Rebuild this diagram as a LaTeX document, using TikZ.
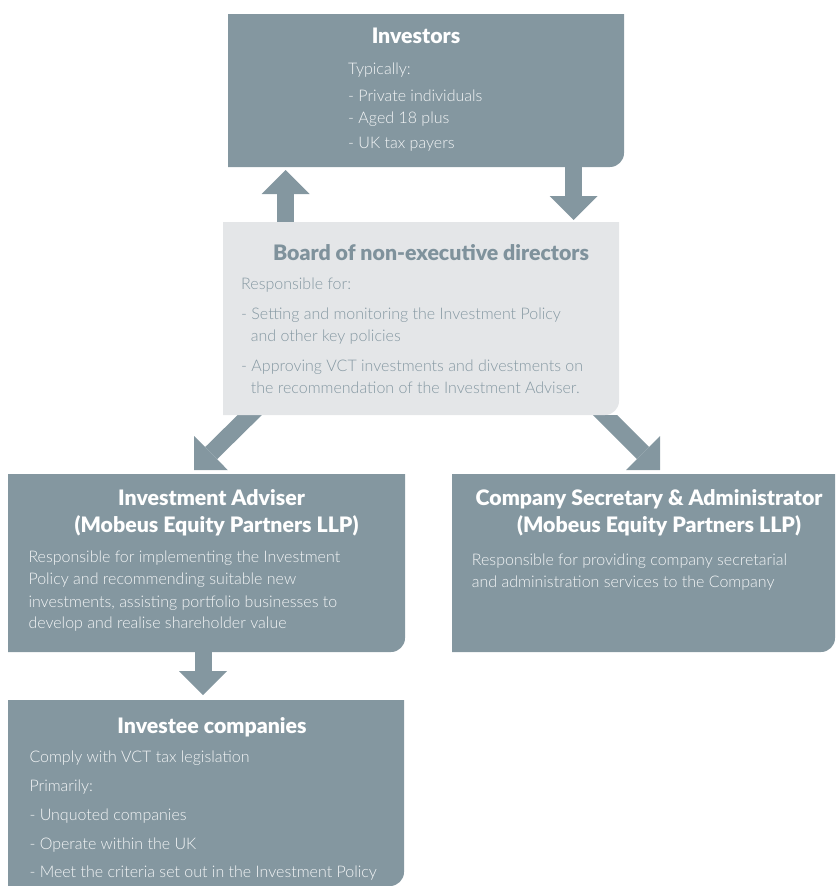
\documentclass[tikz,border=0pt]{standalone}
\usepackage{fontspec}
\setmainfont{Lato}
\newfontfamily\lightfont{Lato Light}
\newfontfamily\blackfont{Lato Black}
\usetikzlibrary{arrows.meta,backgrounds,calc}
\definecolor{boxc}{HTML}{8497A0}
\definecolor{boardc}{HTML}{E4E6E8}
\definecolor{boardtxt}{HTML}{8598A2}
\definecolor{boardttl}{HTML}{7F929C}
\definecolor{bodyw}{HTML}{F4F6F7}
\newcommand\cornerbox[2]{\fill[#2] (#1.north west) -- (#1.north east) -- ([yshift=14pt]#1.south east) .. controls ([yshift=6.3pt]#1.south east) and ([xshift=-6.3pt]#1.south east) .. ([xshift=-14pt]#1.south east) -- (#1.south west) -- cycle;}
\tikzset{
  frame/.style={anchor=north west, inner sep=0pt, outer sep=0pt},
  ttl/.style={font=\blackfont\fontsize{21.3}{24}\selectfont, text=white, anchor=base, inner sep=0pt},
  bd/.style={font=\lightfont\fontsize{16}{18}\selectfont, text=bodyw, anchor=base west, inner sep=0pt},
  bttl/.style={ttl, text=boardttl},
  bbd/.style={bd, text=boardtxt},
  bigarrow/.style={draw=boxc, line width=17pt, -{Triangle[width=48pt,length=24pt,line width=0pt]}}
}
\begin{document}
\begin{tikzpicture}[x=1pt,y=-1pt]
\useasboundingbox (0,0) rectangle (836,886);
\node[frame, minimum width=396pt, minimum height=153pt] (inv) at (228,14) {};
\node[frame, minimum width=396pt, minimum height=193pt] (board) at (223,222) {};
\node[frame, minimum width=397pt, minimum height=178pt] (adv) at (8,474) {};
\node[frame, minimum width=383pt, minimum height=178pt] (sec) at (452,474) {};
\node[frame, minimum width=396pt, minimum height=186pt] (inc) at (8,700) {};
\begin{scope}[on background layer]
\draw[bigarrow] ([xshift=62.5pt,yshift=-10pt]board.north west) -- ([xshift=57.5pt,yshift=-3pt]inv.south west);
\draw[bigarrow] ([xshift=345.5pt,yshift=10pt]inv.south west) -- ([xshift=350.5pt,yshift=2pt]board.north west);
\draw[bigarrow] ([xshift=195pt,yshift=10pt]adv.south west) -- ([xshift=195pt,yshift=5pt]inc.north west);
\begin{scope}
\clip (board.south west -| adv.west) rectangle (sec.north east);
\draw[bigarrow] ([xshift=42pt,yshift=15pt]board.south west) -- ([xshift=186pt,yshift=4pt]adv.north west);
\draw[bigarrow] ([xshift=-29pt,yshift=15pt]board.south east) -- ([xshift=208pt,yshift=4pt]sec.north west);
\end{scope}
\end{scope}
\cornerbox{inv}{boxc}
\cornerbox{board}{boardc}
\cornerbox{adv}{boxc}
\cornerbox{sec}{boxc}
\cornerbox{inc}{boxc}
% Investors
\node[ttl] (invt) at (416,43) {Investors};
\node[bd] (inv1) at (348,74) {Typically:};
\node[bd] (inv2) at (348,101) {- Private individuals};
\node[bd] (inv3) at (348,123) {- Aged 18 plus};
\node[bd] (inv4) at (348,148) {- UK tax payers};
% Board
\node[bttl] (bt) at (431,260) {Board of non-executive directors};
\node[bbd] (b1) at (241,289) {Responsible for:};
\node[bbd] (b2) at (241,319) {- Setting and monitoring the Investment Policy};
\node[bbd] (b3) at (250.7,341) {and other key policies};
\node[bbd] (b4) at (241,371) {- Approving VCT investments and divestments on};
\node[bbd] (b5) at (250.7,393) {the recommendation of the Investment Adviser.};
% Adviser
\node[ttl] (at1) at (211.5,505) {Investment Adviser};
\node[ttl] (at2) at (216.5,532) {(Mobeus Equity Partners LLP)};
\node[bd] (a1) at (28.3,562) {Responsible for implementing the Investment};
\node[bd] (a2) at (28.3,584) {Policy and recommending suitable new};
\node[bd] (a3) at (28.3,607) {investments, assisting portfolio businesses to};
\node[bd] (a4) at (28.3,628) {develop and realise shareholder value};
% Secretary
\node[ttl] (st1) at (649,505) {Company Secretary \& Administrator};
\node[ttl] (st2) at (659,532) {(Mobeus Equity Partners LLP)};
\node[bd] (s1) at (471.7,565) {Responsible for providing company secretarial};
\node[bd] (s2) at (471.7,587) {and administration services to the Company};
% Investee
\node[ttl] (it) at (212,733) {Investee companies};
\node[bd] (i1) at (29.3,762) {Comply with VCT tax legislation};
\node[bd] (i2) at (29.3,791) {Primarily:};
\node[bd] (i3) at (29.3,820) {- Unquoted companies};
\node[bd] (i4) at (29.3,849) {- Operate within the UK};
\node[bd] (i5) at (29.3,877) {- Meet the criteria set out in the Investment Policy};
\end{tikzpicture}
\end{document}
